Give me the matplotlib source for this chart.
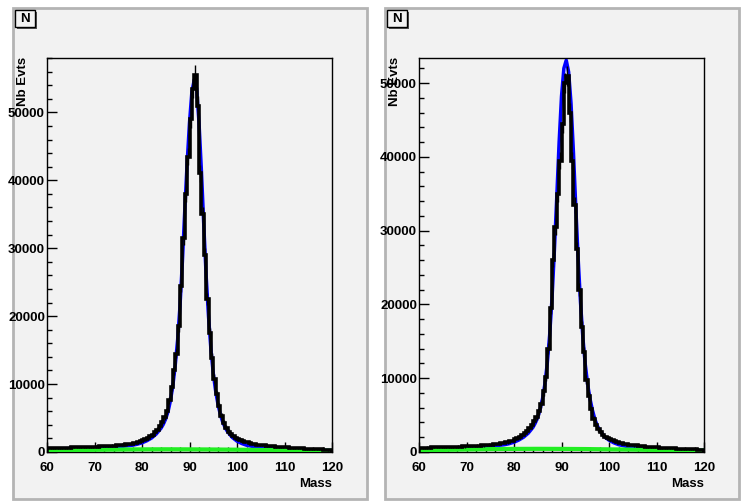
import numpy as np
import matplotlib.pyplot as plt
from matplotlib.patches import Rectangle
from matplotlib.ticker import MultipleLocator

plt.rcParams['font.family'] = ['Liberation Sans', 'DejaVu Sans']
plt.rcParams['font.weight'] = 'bold'

# histogram binning (0.5 GeV bins from 60 to 120)
edges = np.arange(60, 120.01, 0.5)

counts_left = [
    590, 600, 615, 600, 620, 635, 640, 630, 655, 660,
    670, 685, 690, 700, 705, 720, 735, 740, 760, 775,
    790, 805, 820, 845, 850, 885, 900, 925, 950, 985,
    1010, 1060, 1090, 1140, 1180, 1240, 1300, 1380, 1450, 1560,
    1700, 1850, 2080, 2300, 2550, 2950, 3300, 3850, 4400, 5150,
    6100, 7600, 9500, 12000, 14500, 18500, 24500, 31500, 38000, 43500,
    49000, 53500, 55500, 51000, 41000, 35000, 29000, 22500, 17500, 13800,
    10800, 8500, 6700, 5300, 4300, 3600, 3000, 2650, 2300, 2100,
    1950, 1800, 1660, 1520, 1420, 1330, 1250, 1180, 1100, 1050,
    1000, 960, 925, 880, 850, 825, 790, 760, 745, 710,
    690, 665, 640, 610, 595, 560, 545, 520, 500, 485,
    460, 445, 420, 400, 395, 370, 350, 345, 320, 300,
]

counts_right = [
    570, 585, 590, 600, 605, 610, 625, 630, 640, 655,
    660, 670, 685, 690, 700, 715, 720, 740, 750, 765,
    780, 790, 815, 830, 850, 875, 890, 915, 940, 975,
    1000, 1045, 1080, 1125, 1170, 1235, 1290, 1365, 1440, 1550,
    1700, 1850, 2060, 2300, 2550, 2860, 3200, 3650, 4150, 4700,
    5500, 6500, 8200, 10200, 14000, 19500, 26000, 30500, 35000, 39500,
    44500, 50000, 51000, 46000, 39500, 33500, 27500, 22000, 17000, 13500,
    9800, 7600, 5800, 4500, 3700, 3100, 2650, 2300, 2050, 1850,
    1700, 1580, 1475, 1370, 1285, 1200, 1135, 1070, 1010, 965,
    920, 885, 840, 805, 770, 745, 710, 690, 660, 640,
    620, 605, 580, 565, 540, 525, 500, 485, 460, 445,
    430, 415, 400, 385, 370, 355, 340, 330, 315, 300,
]

# fitted total curve (blue)
fit_mass = [60, 62, 64, 66, 68, 70, 72, 74, 76, 78, 79, 80, 81, 82, 83, 84,
            84.5, 85, 85.5, 86, 86.5, 87, 87.5, 88, 88.5, 89, 89.5, 90, 90.5,
            91, 91.5, 92, 92.5, 93, 93.5, 94, 94.5, 95, 95.5, 96, 96.5, 97,
            97.5, 98, 99, 100, 101, 102, 104, 106, 108, 110, 112, 114, 116,
            118, 120]
fit_left = [430, 460, 490, 520, 560, 610, 670, 750, 850, 1000, 1150, 1350,
            1650, 2050, 2650, 3500, 4100, 4900, 6000, 7600, 9800, 12800,
            16500, 21500, 28000, 35500, 42500, 48500, 53000, 54800, 53500,
            48500, 41500, 33500, 26000, 20000, 15200, 11600, 9000, 7000, 5500,
            4400, 3600, 3000, 2150, 1600, 1250, 1000, 720, 560, 460, 390, 340,
            300, 270, 250, 230]
fit_right = [420, 450, 480, 510, 550, 600, 660, 740, 840, 990, 1130, 1330,
             1620, 2000, 2550, 3350, 3950, 4700, 5800, 7200, 9200, 12000,
             15800, 20800, 27300, 34500, 42000, 48200, 52000, 53100, 51500,
             47300, 40800, 33300, 26300, 20300, 15500, 11900, 9200, 7200, 5700,
             4500, 3600, 3000, 2100, 1600, 1250, 1000, 720, 560, 460, 390, 340,
             300, 270, 250, 230]

# background component (green)
bg_mass = [60, 65, 70, 75, 80, 85, 90, 95, 100, 105, 110, 115, 120]
bg_left = [220, 270, 320, 360, 390, 400, 390, 370, 340, 300, 260, 220, 190]
bg_right = [220, 280, 340, 390, 420, 430, 420, 400, 360, 320, 270, 230, 200]

y_max = [58000, 53400]

W, H = 744, 503
pad_bg = '#f2f2f2'


def frac(x0, y0, x1, y1):
    return [x0 / W, 1 - y1 / H, (x1 - x0) / W, (y1 - y0) / H]


fig = plt.figure(figsize=(W / 100, H / 100), dpi=100)
fig.patch.set_facecolor('white')

panels = [(counts_left, fit_left, bg_left), (counts_right, fit_right, bg_right)]
centers = 0.5 * (edges[:-1] + edges[1:])

for k, (counts, fit, bg) in enumerate(panels):
    dx = 372 * k
    # pad with grey border
    r = frac(13 + dx, 8, 367 + dx, 499)
    fig.add_artist(Rectangle((r[0], r[1]), r[2], r[3], transform=fig.transFigure,
                             facecolor=pad_bg, edgecolor='#b4b4b4', lw=2, zorder=0))
    # "N" title box with shadow
    s = frac(17 + dx, 12, 37 + dx, 29)
    fig.add_artist(Rectangle((s[0], s[1]), s[2], s[3], transform=fig.transFigure,
                             facecolor='#555555', edgecolor='none', zorder=1))
    b = frac(15 + dx, 10, 35 + dx, 27)
    fig.add_artist(Rectangle((b[0], b[1]), b[2], b[3], transform=fig.transFigure,
                             facecolor=pad_bg, edgecolor='black', lw=1, zorder=2))
    fig.text((25 + dx) / W, 1 - 18.5 / H, 'N', ha='center', va='center',
             fontsize=9.5, fontweight='bold', zorder=3)

    ax = fig.add_axes(frac(47 + dx, 58, 332 + dx, 452))
    ax.set_facecolor(pad_bg)
    counts = np.array(counts, dtype=float)

    ax.plot(fit_mass, fit, color='blue', lw=2.5, zorder=2)
    ax.plot(bg_mass, bg, color='#22ee22', lw=3, zorder=3)
    ax.stairs(counts, edges, color='black', lw=2.6, zorder=4)
    ax.errorbar(centers, counts, yerr=np.sqrt(counts) * 6, fmt='none',
                ecolor='black', elinewidth=1, zorder=4)

    ax.set_xlim(60, 120)
    ax.set_ylim(0, y_max[k])
    ax.xaxis.set_major_locator(MultipleLocator(10))
    ax.xaxis.set_minor_locator(MultipleLocator(2))
    ax.yaxis.set_major_locator(MultipleLocator(10000))
    ax.yaxis.set_minor_locator(MultipleLocator(2000))
    ax.tick_params(which='both', direction='in', top=False, right=False,
                   width=1, labelsize=9.5)
    ax.tick_params(which='major', length=7.2)
    ax.tick_params(which='minor', length=3.6)
    ax.tick_params(axis='y', pad=1.5)
    ax.tick_params(axis='x', pad=7)
    for lab in ax.get_xticklabels() + ax.get_yticklabels():
        lab.set_fontweight('bold')
    for sp in ax.spines.values():
        sp.set_linewidth(1)

    fig.text((332 + dx) / W, 1 - 484 / H, 'Mass', ha='right', va='center',
             fontsize=9.5, fontweight='bold')
    fig.text((23 + dx) / W, 1 - 57 / H, 'Nb Evts', ha='center', va='top',
             rotation=90, fontsize=9.5, fontweight='bold')

plt.savefig('out.png', dpi=100)
